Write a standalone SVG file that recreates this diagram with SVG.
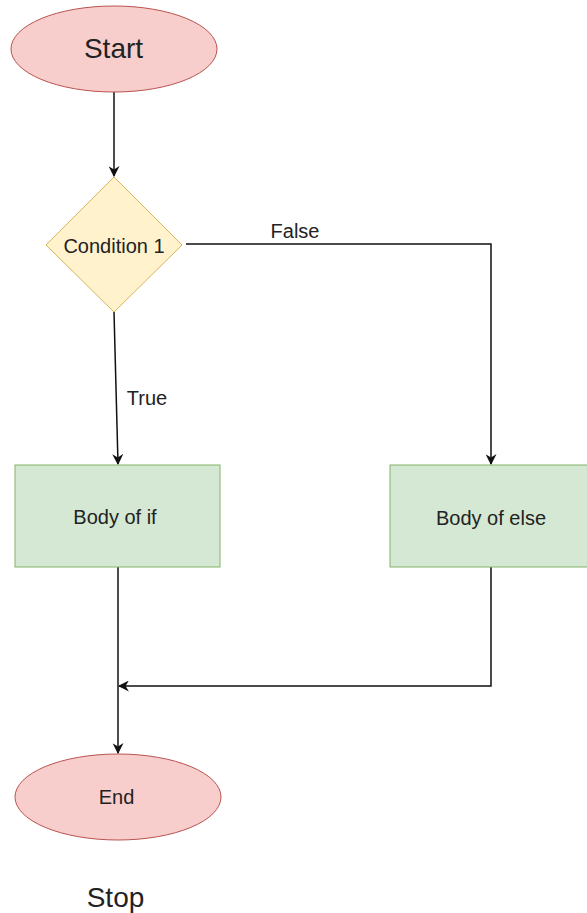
<svg xmlns="http://www.w3.org/2000/svg" width="587" height="913" viewBox="0 0 587 913">
<style>
.term{fill:#f8cecc;stroke:#b85450;stroke-width:1}
.dec{fill:#fff2cc;stroke:#d6b656;stroke-width:1}
.proc{fill:#d5e8d4;stroke:#82b366;stroke-width:1}
.lbl{font-family:"Liberation Sans",Arial,sans-serif;fill:#222;text-anchor:middle;font-size:20px}
.big{font-size:28px}
.edge{fill:none;stroke:#111;stroke-width:1.5}
</style>
<defs>
<marker id="arr" viewBox="0 0 10 10" refX="9" refY="5" markerWidth="11" markerHeight="11" markerUnits="userSpaceOnUse" orient="auto">
<path d="M0,0 L10,5 L0,10 L3,5 Z" fill="#111"/>
</marker>
</defs>
<rect width="587" height="913" fill="#fff"/>
<g id="connectors">
<path class="edge" d="M114,92 L114,176" marker-end="url(#arr)"/>
<path class="edge" d="M186,244 L491,244 L491,464" marker-end="url(#arr)"/>
<path class="edge" d="M114,312 L118,464" marker-end="url(#arr)"/>
<path class="edge" d="M118,567 L118,753" marker-end="url(#arr)"/>
<path class="edge" d="M491,567 L491,686 L119,686" marker-end="url(#arr)"/>
<text class="lbl" x="295" y="238">False</text>
<text class="lbl" x="147" y="405">True</text>
</g>
<g id="start">
<ellipse class="term" cx="114" cy="49" rx="103" ry="43"/>
<text class="lbl big" x="113.5" y="58">Start</text>
</g>
<g id="cond">
<polygon class="dec" points="114,177 182,245 114,312 46,245"/>
<text class="lbl" x="114" y="253">Condition 1</text>
</g>
<g id="bodyif">
<rect class="proc" x="15" y="465" width="205" height="102"/>
<text class="lbl" x="115" y="524">Body of if</text>
</g>
<g id="bodyelse">
<rect class="proc" x="390" y="465" width="205" height="102"/>
<text class="lbl" x="491" y="525">Body of else</text>
</g>
<g id="end">
<ellipse class="term" cx="118" cy="797" rx="103" ry="43"/>
<text class="lbl" x="116.5" y="804">End</text>
</g>
<g id="stop">
<text class="lbl big" x="115.5" y="907">Stop</text>
</g>
</svg>
